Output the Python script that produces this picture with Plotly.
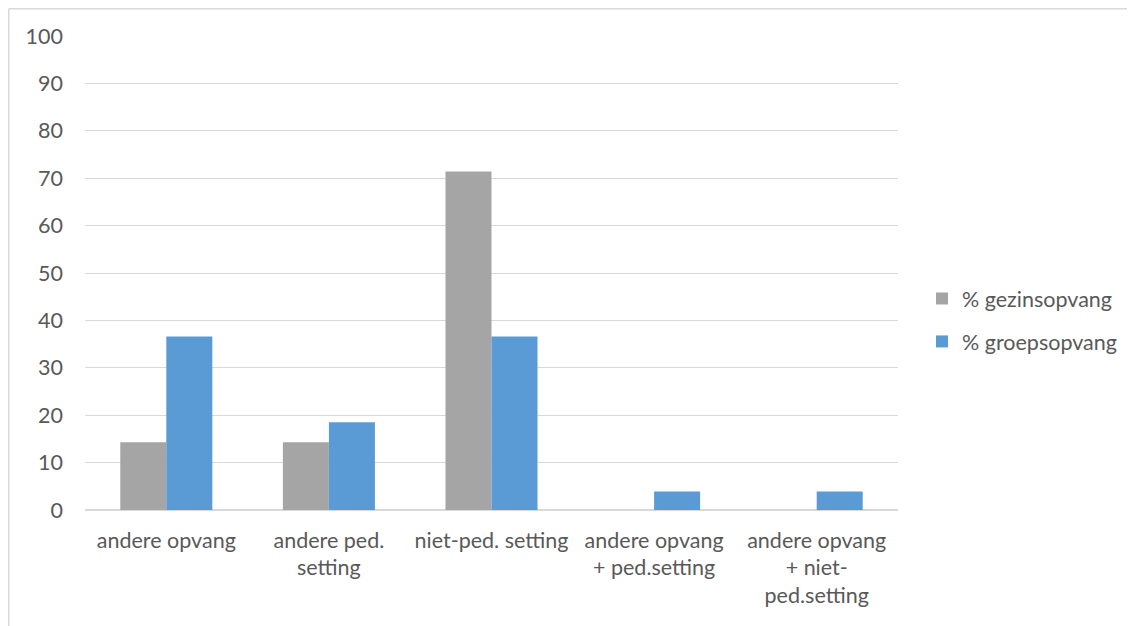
import plotly.graph_objects as go

categories = ["andere opvang", "andere ped.<br>setting", "niet-ped. setting",
              "andere opvang<br>+ ped.setting", "andere opvang<br>+ niet-<br>ped.setting"]
gezinsopvang = [14.3, 14.3, 71.4, None, None]
groepsopvang = [36.6, 18.5, 36.6, 3.9, 3.9]
y_ticks = [0, 10, 20, 30, 40, 50, 60, 70, 80, 90, 100]

W, H = 1127, 618
L, R, T, B = 77, 237, 28, 116
pw, ph = W - L - R, H - T - B

font = dict(family="Lato, 'Open Sans', sans-serif", size=21.5, color="#595959")

fig = go.Figure()
fig.add_trace(go.Bar(x=categories, y=gezinsopvang, name="% gezinsopvang",
                     marker=dict(color="#a5a5a5", line=dict(width=0)), legendgroup="a"))
fig.add_trace(go.Bar(x=categories, y=groepsopvang, name="% groepsopvang",
                     marker=dict(color="#5b9bd5", line=dict(width=0)), legendgroup="b"))

def px_x(p):
    return (p - L) / pw

def px_y(p):
    return (H - B - p) / ph

border = dict(color="#d9d9d9", width=1.5)

fig.update_layout(
    width=W, height=H,
    margin=dict(l=L, r=R, t=T, b=B, pad=0),
    paper_bgcolor="white", plot_bgcolor="white",
    barmode="group", bargap=0.434, bargroupgap=0,
    font=font,
    showlegend=True,
    legend=dict(x=px_x(914), y=px_y(270), xanchor="left", yanchor="top",
                font=font, tracegroupgap=12, traceorder="grouped",
                bgcolor="rgba(0,0,0,0)"),
    xaxis=dict(showgrid=False, tickfont=font, ticks="", showline=False,
               zeroline=False, ticklabelstandoff=15),
    yaxis=dict(range=[0, 100], tickvals=y_ticks, showgrid=True, gridcolor="#d9d9d9",
               gridwidth=1, zeroline=True, zerolinecolor="#d9d9d9", zerolinewidth=1.5,
               showline=False, ticks="", tickfont=font, ticklabelstandoff=21),
    shapes=[
        dict(type="line", xref="paper", yref="paper",
             x0=px_x(0.75), x1=px_x(W), y0=px_y(0.75), y1=px_y(0.75),
             line=border, layer="below"),
        dict(type="line", xref="paper", yref="paper",
             x0=px_x(0.75), x1=px_x(0.75), y0=px_y(H), y1=px_y(0.75),
             line=border, layer="below"),
    ],
)

fig.write_html("out.html")
